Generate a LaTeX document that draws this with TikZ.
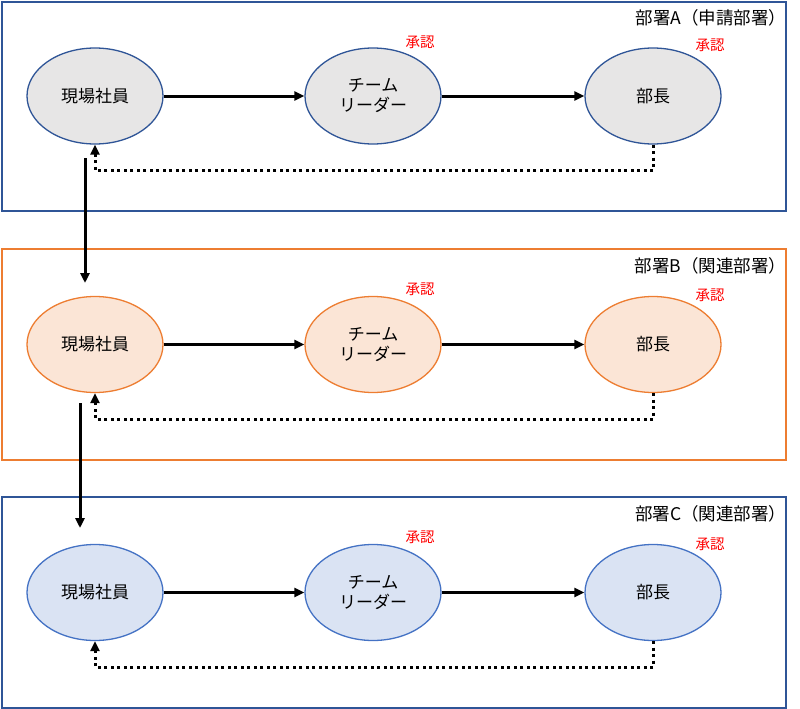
\documentclass[tikz,border=0pt]{standalone}
\usepackage{fontspec}
\setmainfont{Noto Sans CJK JP}
\usetikzlibrary{shapes,arrows.meta,positioning}
\definecolor{deptblue}{HTML}{2F5597}
\definecolor{lightblue}{HTML}{4472C4}
\definecolor{deptorange}{HTML}{ED7D31}
\definecolor{fillgray}{HTML}{E7E6E6}
\definecolor{fillorange}{HTML}{FBE5D6}
\definecolor{fillblue}{HTML}{DAE3F3}

\begin{document}
\begin{tikzpicture}[x=1pt,y=-1pt,
    dept/.style={line width=1.5pt},
    role/.style={ellipse, draw, line width=1.3pt, minimum width=136pt, minimum height=96pt,
                 inner sep=0pt, align=center, font=\fontsize{17}{20}\selectfont},
    flow/.style={line width=3pt, -{Triangle[length=10pt,width=9pt]}},
    back/.style={line width=3pt, dash pattern=on 3pt off 3.5pt, -{Triangle[length=10pt,width=9pt]}},
    title/.style={anchor=east, font=\fontsize{17.5}{20}\selectfont},
    ok/.style={text=red, font=\fontsize{14.5}{17}\selectfont}]
  \useasboundingbox (0,0) rectangle (800,709);
  % 部署A
  \draw[dept, deptblue] (2,2) rectangle (786,211);
  \node[title] (tA) at (790,18) {部署A（申請部署）};
  \node[role, draw=deptblue, fill=fillgray] (maA) at (95,96) {現場社員};
  \node[role, draw=deptblue, fill=fillgray] (leA) at (373,96) {チーム\\リーダー};
  \node[role, draw=deptblue, fill=fillgray] (buA) at (653,96) {部長};
  \node[ok] (okA1) at (420,42) {承認};
  \node[ok] (okA2) at (710,45) {承認};
  \draw[flow] (maA) -- (leA);
  \draw[flow] (leA) -- (buA);
  \draw[back] (buA.south) -- ++(0,26) -| (maA.south);
  % 部署B
  \draw[dept, deptorange] (2,249) rectangle (786,460);
  \node[title] (tB) at (790,266) {部署B（関連部署）};
  \node[role, draw=deptorange, fill=fillorange] (maB) at (95,344.5) {現場社員};
  \node[role, draw=deptorange, fill=fillorange] (leB) at (373,344.5) {チーム\\リーダー};
  \node[role, draw=deptorange, fill=fillorange] (buB) at (653,344.5) {部長};
  \node[ok] (okB1) at (420,289) {承認};
  \node[ok] (okB2) at (710,295) {承認};
  \draw[flow] (maB) -- (leB);
  \draw[flow] (leB) -- (buB);
  \draw[back] (buB.south) -- ++(0,26) -| (maB.south);
  % 部署C
  \draw[dept, deptblue] (2,497) rectangle (786,708);
  \node[title] (tC) at (790,514) {部署C（関連部署）};
  \node[role, draw=lightblue, fill=fillblue] (maC) at (95,592.5) {現場社員};
  \node[role, draw=lightblue, fill=fillblue] (leC) at (373,592.5) {チーム\\リーダー};
  \node[role, draw=lightblue, fill=fillblue] (buC) at (653,592.5) {部長};
  \node[ok] (okC1) at (420,537) {承認};
  \node[ok] (okC2) at (710,544) {承認};
  \draw[flow] (maC) -- (leC);
  \draw[flow] (leC) -- (buC);
  \draw[back] (buC.south) -- ++(0,26) -| (maC.south);
  % 部署間
  \coordinate (ab1) at (85,158);
  \coordinate (ab2) at (85,283);
  \coordinate (bc1) at (80,403);
  \coordinate (bc2) at (80,528);
  \draw[flow] (ab1) -- (ab2);
  \draw[flow] (bc1) -- (bc2);
\end{tikzpicture}
\end{document}
